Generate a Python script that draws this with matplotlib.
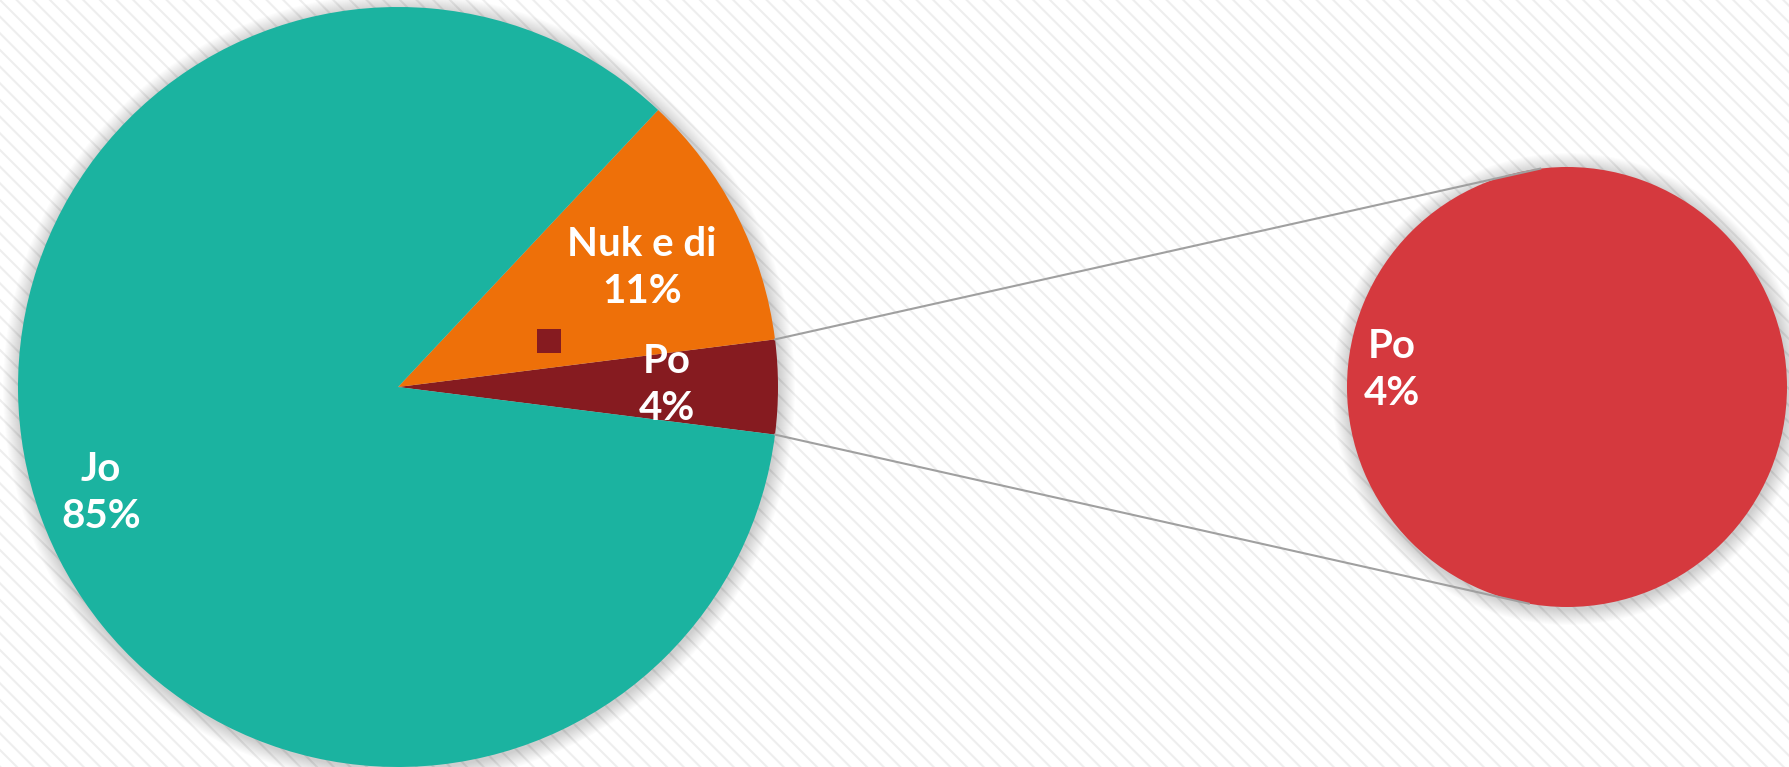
import matplotlib.pyplot as plt
import numpy as np
from matplotlib.patches import Circle, Rectangle

# main pie (order: Po, Nuk e di, Jo - counterclockwise from the right)
main_labels = ["Po", "Nuk e di", "Jo"]
main_values = [4, 11, 85]
main_colors = ["#861B20", "#EE7009", "#1BB3A0"]

# secondary pie (breakdown of "Po")
sec_labels = ["Po"]
sec_values = [4]
sec_colors = ["#D5393E"]

W, H = 1790, 767
plt.rcParams["font.family"] = ["Lato", "DejaVu Sans"]
plt.rcParams["hatch.linewidth"] = 1.5

fig = plt.figure(figsize=(W / 100, H / 100), dpi=100)
ax = fig.add_axes([0, 0, 1, 1])

# striped background
ax.add_patch(Rectangle((0, 0), W, H, facecolor="white", edgecolor="#eeeeee",
                       hatch="\\\\", linewidth=0, zorder=0))

main_c = (398, 380)
main_r = 380
sec_c = (1567, 380)
sec_r = 220

# soft shadows
for c, r in [(main_c, main_r), (sec_c, sec_r)]:
    for k in range(16):
        ax.add_patch(Circle((c[0] + 1, c[1] - 2), r + 16 - k, color="#000000",
                            alpha=0.012, linewidth=0, zorder=1))

half = 360 * main_values[0] / sum(main_values) / 2
wedges, _ = ax.pie(main_values, colors=main_colors, startangle=-half,
                   center=main_c, radius=main_r, frame=True,
                   wedgeprops=dict(linewidth=0))
sw, _ = ax.pie(sec_values, colors=sec_colors, startangle=90,
               center=sec_c, radius=sec_r, frame=True,
               wedgeprops=dict(linewidth=0))
for w in list(wedges) + list(sw):
    w.set_zorder(2)

ax.set_xlim(0, W)
ax.set_ylim(0, H)
ax.set_aspect("equal")
ax.axis("off")

# connector lines
a = np.deg2rad(half)
p_top = (main_c[0] + main_r * np.cos(a), main_c[1] + main_r * np.sin(a))
p_bot = (main_c[0] + main_r * np.cos(a), main_c[1] - main_r * np.sin(a))
q_top = (sec_c[0] + sec_r * np.cos(np.deg2rad(97)), sec_c[1] + sec_r * np.sin(np.deg2rad(97)))
q_bot = (sec_c[0] + sec_r * np.cos(np.deg2rad(-100)), sec_c[1] + sec_r * np.sin(np.deg2rad(-100)))
ax.plot([p_top[0], q_top[0]], [p_top[1], q_top[1]], color="#a0a0a0", lw=1.5, zorder=3)
ax.plot([p_bot[0], q_bot[0]], [p_bot[1], q_bot[1]], color="#a0a0a0", lw=1.5, zorder=3)

# data labels
txt = dict(color="white", fontsize=29, fontweight="bold", ha="center",
           va="center", linespacing=1.35, zorder=5)
pct = [round(v / sum(main_values) * 100) for v in main_values]
ax.text(667, 382, f"{main_labels[0]}\n{pct[0]}%", **txt)
ax.text(642, 499, f"{main_labels[1]}\n{pct[1]}%", **txt)
ax.text(101, 274, f"{main_labels[2]}\n{pct[2]}%", **txt)
ax.text(1392, 397, f"{sec_labels[0]}\n{sec_values[0]}%", **txt)

# stray legend key
ax.add_patch(Rectangle((537, 414), 24, 24, facecolor=main_colors[0],
                       linewidth=0, zorder=5))

fig.savefig("out.png", dpi=100)
